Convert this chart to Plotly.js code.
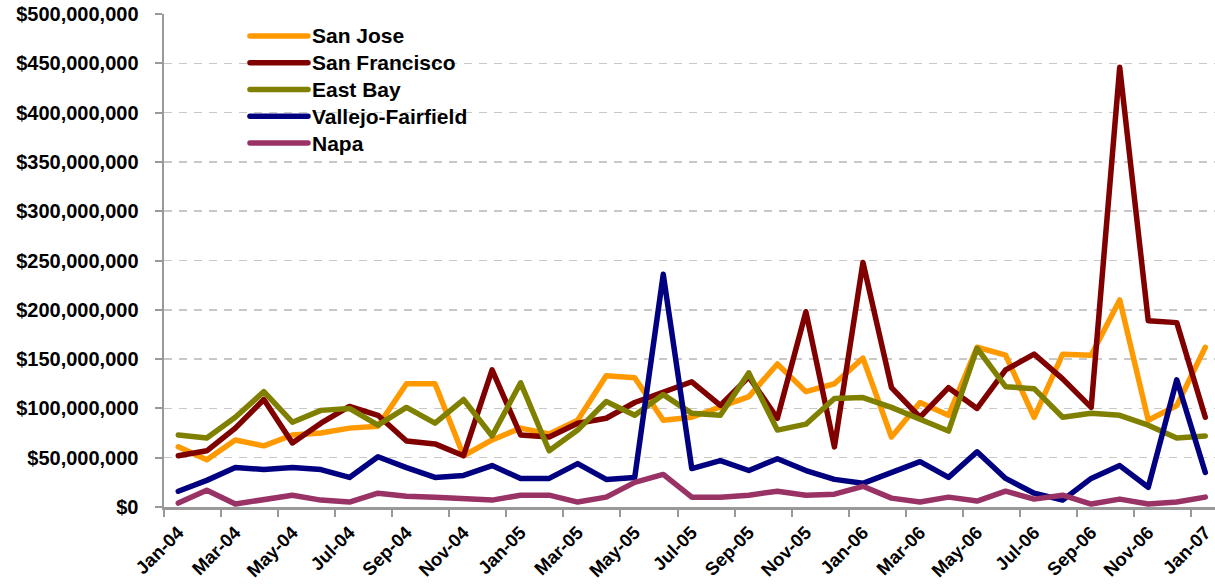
<!DOCTYPE html>
<html>
<head>
<meta charset="utf-8">
<script src="https://cdn.plot.ly/plotly-3.0.1.min.js"></script>
<style>
  html, body { margin: 0; padding: 0; background: #ffffff; }
  #chart { width: 1215px; height: 585px; }
  .js-line { stroke-linejoin: round !important; stroke-linecap: round !important; }
  .shapelayer path { stroke-linecap: round !important; }
</style>
</head>
<body>
<div id="chart"></div>
<script>
const months = ["Jan-04","Feb-04","Mar-04","Apr-04","May-04","Jun-04","Jul-04","Aug-04","Sep-04","Oct-04","Nov-04","Dec-04",
                "Jan-05","Feb-05","Mar-05","Apr-05","May-05","Jun-05","Jul-05","Aug-05","Sep-05","Oct-05","Nov-05","Dec-05",
                "Jan-06","Feb-06","Mar-06","Apr-06","May-06","Jun-06","Jul-06","Aug-06","Sep-06","Oct-06","Nov-06","Dec-06",
                "Jan-07"];

const seriesNames = ["San Jose", "San Francisco", "East Bay", "Vallejo-Fairfield", "Napa"];

const sanJose = [61e6, 48e6, 68e6, 62e6, 73e6, 75e6, 80e6, 82e6, 125e6, 125e6, 52e6, 68e6,
                 80e6, 74e6, 88e6, 133e6, 131e6, 88e6, 91e6, 101e6, 112e6, 145e6, 117e6, 125e6,
                 151e6, 71e6, 106e6, 93e6, 162e6, 154e6, 91e6, 155e6, 154e6, 210e6, 88e6, 103e6,
                 162e6];
const sanFrancisco = [52e6, 57e6, 80e6, 109e6, 65e6, 85e6, 102e6, 93e6, 67e6, 64e6, 52e6, 139e6,
                      73e6, 71e6, 85e6, 90e6, 106e6, 116e6, 127e6, 103e6, 132e6, 90e6, 198e6, 61e6,
                      248e6, 121e6, 91e6, 121e6, 100e6, 139e6, 155e6, 130e6, 101e6, 446e6, 189e6, 187e6,
                      91e6];
const eastBay = [73e6, 70e6, 91e6, 117e6, 86e6, 98e6, 100e6, 83e6, 101e6, 85e6, 109e6, 72e6,
                 126e6, 57e6, 78e6, 107e6, 93e6, 114e6, 95e6, 93e6, 136e6, 78e6, 84e6, 110e6,
                 111e6, 101e6, 89e6, 77e6, 161e6, 122e6, 120e6, 91e6, 95e6, 93e6, 83e6, 70e6,
                 72e6];
const vallejoFairfield = [16e6, 27e6, 40e6, 38e6, 40e6, 38e6, 30e6, 51e6, 40e6, 30e6, 32e6, 42e6,
                          29e6, 29e6, 44e6, 28e6, 30e6, 236e6, 39e6, 47e6, 37e6, 49e6, 37e6, 28e6,
                          24e6, 35e6, 46e6, 30e6, 56e6, 29e6, 14e6, 7e6, 29e6, 42e6, 20e6, 129e6,
                          35e6];
const napa = [4e6, 17e6, 3e6, 8e6, 12e6, 7e6, 5e6, 14e6, 11e6, 10e6, 8e6, 7e6,
              12e6, 12e6, 5e6, 10e6, 25e6, 33e6, 10e6, 10e6, 12e6, 16e6, 12e6, 13e6,
              21e6, 9e6, 5e6, 10e6, 6e6, 16e6, 8e6, 12e6, 3e6, 8e6, 3e6, 5e6,
              10e6];

const seriesValues = [sanJose, sanFrancisco, eastBay, vallejoFairfield, napa];
const seriesColors = ["#FF9900", "#800000", "#808000", "#000080", "#993366"];

const FONT = "Liberation Sans, Arial, Helvetica, sans-serif";

const traces = seriesNames.map((name, i) => ({
  type: "scatter",
  mode: "lines",
  name: name,
  x: months,
  y: seriesValues[i],
  line: { color: seriesColors[i], width: 5.5 },
  showlegend: false,
  hoverinfo: "x+y+name"
}));

// Legend drawn in the upper-left of the plot area (paper coordinates)
const legendLineX0 = 0.0818, legendLineX1 = 0.137, legendTextX = 0.1389;
const legendTop = 0.9554, legendStep = 0.0543;
const legendShapes = seriesNames.map((name, i) => ({
  type: "line", xref: "paper", yref: "paper",
  x0: legendLineX0, x1: legendLineX1,
  y0: legendTop - i * legendStep, y1: legendTop - i * legendStep,
  line: { color: seriesColors[i], width: 5.5 }
}));
const legendLabels = seriesNames.map((name, i) => ({
  xref: "paper", yref: "paper",
  x: legendTextX, y: legendTop - i * legendStep,
  xanchor: "left", yanchor: "middle",
  text: name, showarrow: false,
  font: { family: FONT, size: 21, color: "#000000", weight: "bold" }
}));

const layout = {
  width: 1215,
  height: 585,
  margin: { l: 164, r: 0, t: 14, b: 78, pad: 0 },
  paper_bgcolor: "#ffffff",
  plot_bgcolor: "#ffffff",
  font: { family: FONT, color: "#000000", weight: "bold" },
  showlegend: false,
  shapes: legendShapes,
  annotations: legendLabels,
  xaxis: {
    type: "category",
    range: [-0.5, 36.34],
    tickmode: "linear",
    tick0: 0,
    dtick: 2,
    tickson: "boundaries",
    tickangle: -45,
    ticks: "outside",
    ticklen: 7,
    tickwidth: 2,
    tickcolor: "#999999",
    ticklabelstandoff: 5,
    showline: true,
    linecolor: "#999999",
    linewidth: 2.5,
    showgrid: false,
    zeroline: false,
    tickfont: { family: FONT, size: 18.5, color: "#000000", weight: "bold" },
    fixedrange: true
  },
  yaxis: {
    range: [0, 500e6],
    tickmode: "linear",
    tick0: 0,
    dtick: 50e6,
    tickprefix: "$",
    tickformat: ",d",
    ticks: "outside",
    ticklen: 7,
    tickwidth: 2,
    tickcolor: "#999999",
    ticklabelstandoff: 12,
    showline: true,
    linecolor: "#999999",
    linewidth: 2.5,
    showgrid: true,
    gridcolor: "#c8c8c8",
    gridwidth: 1.5,
    griddash: "8px,7px",
    zeroline: false,
    tickfont: { family: FONT, size: 20, color: "#000000", weight: "bold" },
    fixedrange: true
  }
};

Plotly.newPlot("chart", traces, layout, { staticPlot: true, displayModeBar: false });
</script>
</body>
</html>
